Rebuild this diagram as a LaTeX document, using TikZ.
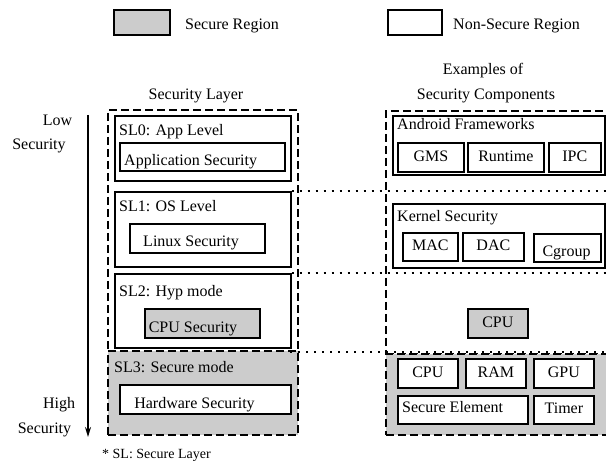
\documentclass[tikz,border=0pt]{standalone}
\usepackage{fontspec}
\setmainfont{Liberation Serif}
\usetikzlibrary{arrows.meta}
\definecolor{secgray}{RGB}{204,204,204}
\begin{document}
\begin{tikzpicture}[x=1pt,y=-1pt,
  every node/.style={font=\fontsize{16}{19}\selectfont},
  bx/.style={draw, line width=1.7pt, rectangle, inner sep=0pt, anchor=north west, text height=11pt, text depth=3pt},
  sbx/.style={bx, fill=secgray},
  region/.style={draw, line width=1.6pt, dash pattern=on 8pt off 4pt, rectangle, inner sep=0pt, anchor=north west},
  sregion/.style={region, fill=secgray},
  dotline/.style={line width=2pt, dash pattern=on 2pt off 6pt},
  txt/.style={inner sep=0pt},
  arr/.style={line width=1.5pt, -{Stealth[length=10pt,width=6pt]}}
]
\useasboundingbox (0,0) rectangle (606,462);
\clip (0,0) rectangle (606,462);

% legend
\node[sbx, minimum width=56pt, minimum height=25pt] (legS) at (113,9) {};
\node[txt, anchor=base west] (tLegS) at (185,29.5) {Secure Region};
\node[bx, minimum width=54pt, minimum height=25pt] (legN) at (387,9) {};
\node[txt, anchor=base west] (tLegN) at (453,29.5) {Non-Secure Region};

% headings
\node[txt, anchor=base] (tLayer) at (196,100) {Security Layer};
\node[txt, anchor=base] (tEx1) at (483,75) {Examples of};
\node[txt, anchor=base] (tEx2) at (486,100) {Security Components};

% low/high
\node[txt, anchor=base] (tLow) at (57.5,126) {Low};
\node[txt, anchor=base] (tLowS) at (39,150) {Security};
\node[txt, anchor=base] (tHigh) at (59,409) {High};
\node[txt, anchor=base] (tHighS) at (44.5,434) {Security};
\coordinate (arT) at (88,115);
\coordinate (arB) at (88,437);
\draw[arr] (arT) -- (arB);

% containers
\node[region, minimum width=190pt, minimum height=241pt] (layerbox) at (107,109) {};
\node[sregion, minimum width=190pt, minimum height=84pt] (sl3) at (107,350) {};
\node[region, minimum width=227pt, minimum height=243pt] (compbox) at (385,110) {};
\node[sregion, minimum width=227pt, minimum height=81pt] (hwbox) at (385,353) {};

% left column
\node[bx, minimum width=176pt, minimum height=65pt] (sl0) at (114,115) {};
\node[txt, anchor=base west] (tSL0) at (119,136) {SL0: App Level};
\node[bx, minimum width=165pt, minimum height=28pt] (app) at (119,142) {};
\node[txt, anchor=base west] (tApp) at (124,166) {Application Security};

\node[bx, minimum width=176pt, minimum height=75pt] (sl1) at (114,191) {};
\node[txt, anchor=base west] (tSL1) at (119,212) {SL1: OS Level};
\node[bx, minimum width=135pt, minimum height=29pt] (linux) at (129,223) {};
\node[txt, anchor=base] (tLinux) at (191,247) {Linux Security};

\node[bx, minimum width=176pt, minimum height=74pt] (sl2) at (114,273) {};
\node[txt, anchor=base west] (tSL2) at (119,297) {SL2: Hyp mode};
\node[sbx, minimum width=115pt, minimum height=29pt] (cpusec) at (144,308) {};
\node[txt, anchor=base] (tCpuSec) at (193,333) {CPU Security};

\node[txt, anchor=base west] (tSL3) at (114,373) {SL3: Secure mode};
\node[bx, fill=white, minimum width=171pt, minimum height=29pt] (hw) at (119,384) {};
\node[txt, anchor=base] (tHw) at (194.5,409) {Hardware Security};

\node[txt, anchor=base west, font=\fontsize{14}{17}\selectfont] (tNote) at (102,459) {* SL: Secure Layer};

% right column
\node[bx, minimum width=212pt, minimum height=59pt] (andr) at (392,115) {};
\node[txt, anchor=base west] (tAndr) at (397,130) {Android Frameworks};
\node[bx, minimum width=66pt, minimum height=29pt] (gms) at (397,142) {GMS};
\node[bx, minimum width=76pt, minimum height=29pt] (runtime) at (467,142) {Runtime};
\node[bx, minimum width=52pt, minimum height=29pt] (ipc) at (548,142) {IPC};

\node[bx, minimum width=212pt, minimum height=64pt] (kern) at (392,203) {};
\node[txt, anchor=base west] (tKern) at (397,222) {Kernel Security};
\node[bx, minimum width=55pt, minimum height=28pt] (mac) at (402,232) {MAC};
\node[bx, minimum width=61pt, minimum height=28pt] (dac) at (462,232) {DAC};
\node[bx, minimum width=67pt, minimum height=28pt] (cgroup) at (533,233) {};
\node[txt, anchor=base] (tCgroup) at (566.5,257) {Cgroup};

\node[sbx, minimum width=60pt, minimum height=29pt] (cpum) at (467,308) {CPU};

\node[bx, fill=white, minimum width=60pt, minimum height=29pt] (cpu) at (397,358) {CPU};
\node[bx, fill=white, minimum width=60pt, minimum height=29pt] (ram) at (465,358) {RAM};
\node[bx, fill=white, minimum width=60pt, minimum height=29pt] (gpu) at (533,358) {GPU};
\node[bx, fill=white, minimum width=130pt, minimum height=28pt] (se) at (397,395) {};
\node[txt, anchor=base west] (tSe) at (402,413) {Secure Element};
\node[bx, fill=white, minimum width=60pt, minimum height=28pt] (timer) at (533,395) {Timer};

% dotted separators
\coordinate (rEdge) at (612,0);
\coordinate (sl3dot) at (290,352);
\draw[dotline] (sl1.north east) -- (sl1.north east -| rEdge);
\draw[dotline] (sl2.north east) -- (sl2.north east -| rEdge);
\draw[dotline] (sl3dot) -- (sl3dot -| rEdge);
\end{tikzpicture}
\end{document}
